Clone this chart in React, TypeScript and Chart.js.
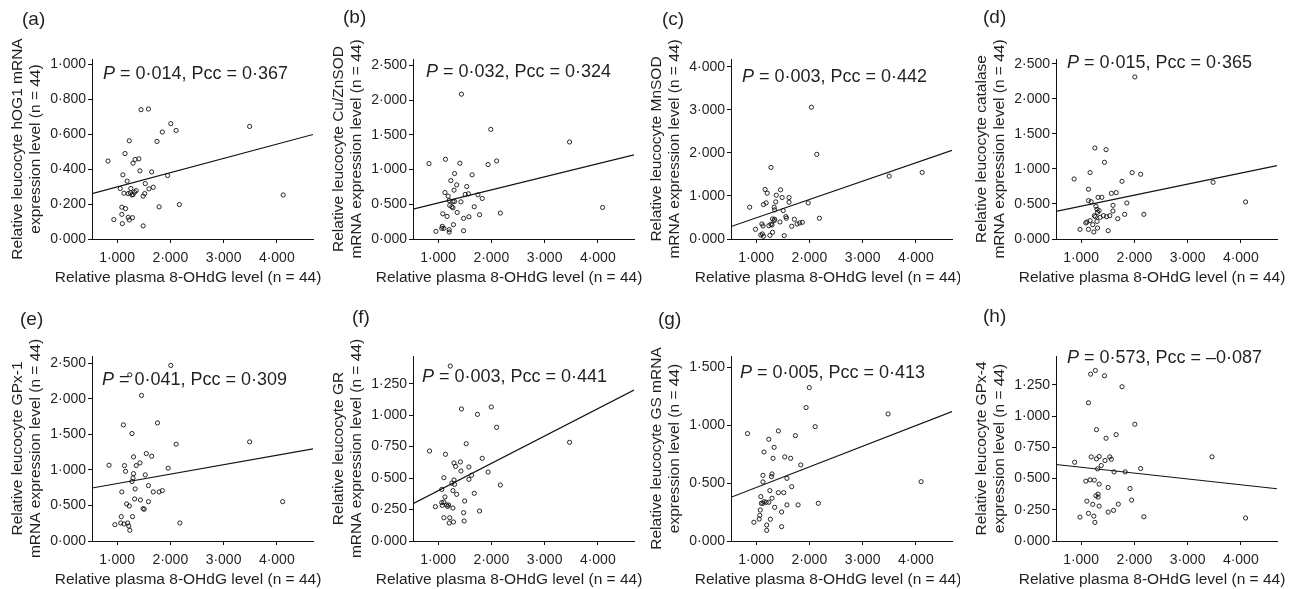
import React, { useEffect, useRef } from 'react';
import { Chart, registerables } from 'chart.js';

Chart.register(...registerables);

// ---------- data ----------
const X_MIN = 0.53;
const X_MAX = 4.68;
const xTicks = [1, 2, 3, 4];
const xTitle = 'Relative plasma 8-OHdG level (n = 44)';

const panelLetters = ['(a)', '(b)', '(c)', '(d)', '(e)', '(f)', '(g)', '(h)'];
const pValues = ['0·014', '0·032', '0·003', '0·015', '0·041', '0·003', '0·005', '0·573'];
const pccValues = ['0·367', '0·324', '0·442', '0·365', '0·309', '0·441', '0·413', '–0·087'];

const yTitles = [
  ['Relative leucocyte hOG1 mRNA', 'expression level (n = 44)'],
  ['Relative leucocyte Cu/ZnSOD', 'mRNA expression level (n = 44)'],
  ['Relative leucocyte MnSOD', 'mRNA expression level (n = 44)'],
  ['Relative leucocyte catalase', 'mRNA expression level (n = 44)'],
  ['Relative leucocyte GPx-1', 'mRNA expression level (n = 44)'],
  ['Relative leucocyte GR', 'mRNA expression level (n = 44)'],
  ['Relative leucocyte GS mRNA', 'expression level (n = 44)'],
  ['Relative leucocyte GPx-4', 'expression level (n = 44)'],
];

const yTicksA = [0, 0.2, 0.4, 0.6, 0.8, 1.0];
const yTicksB = [0, 0.5, 1, 1.5, 2, 2.5];
const yTicksC = [0, 1, 2, 3, 4];
const yTicksD = [0, 0.5, 1, 1.5, 2, 2.5];
const yTicksE = [0, 0.5, 1, 1.5, 2, 2.5];
const yTicksF = [0, 0.25, 0.5, 0.75, 1, 1.25];
const yTicksG = [0, 0.5, 1, 1.5];
const yTicksH = [0, 0.25, 0.5, 0.75, 1, 1.25];
const yMaxes = [1.03, 2.59, 4.18, 2.57, 2.6, 1.47, 1.6, 1.48];

const xA = [1.45,1.59,2.01,2.11,1.85,3.49,1.75,1.23,1.15,1.41,1.34,1.30,0.83,1.43,1.65,1.11,1.95,1.19,1.53,1.06,1.26,1.60,1.68,1.36,1.33,1.13,1.21,1.28,1.52,1.49,1.30,1.25,4.12,1.09,1.16,1.79,2.17,1.09,1.21,1.29,1.23,0.94,1.10,1.49];
const yA = [0.740,0.744,0.660,0.621,0.612,0.644,0.558,0.562,0.489,0.459,0.455,0.434,0.446,0.390,0.384,0.367,0.363,0.331,0.317,0.289,0.289,0.287,0.296,0.277,0.268,0.262,0.260,0.252,0.260,0.245,0.254,0.264,0.252,0.182,0.174,0.184,0.197,0.141,0.124,0.122,0.109,0.111,0.088,0.075];

const xB = [1.44,1.99,3.47,0.83,1.14,1.41,1.94,2.10,1.31,1.64,1.24,1.35,1.54,1.13,1.30,1.51,1.57,1.75,1.83,1.19,1.21,1.28,1.31,1.43,1.22,1.26,1.28,1.68,1.09,1.17,1.36,1.58,1.48,1.78,2.17,4.09,1.29,1.08,1.07,1.11,1.21,1.21,0.96,1.48];
const yB = [2.084,1.577,1.396,1.085,1.147,1.090,1.071,1.123,0.942,0.923,0.841,0.779,0.755,0.669,0.703,0.641,0.650,0.636,0.583,0.617,0.554,0.540,0.540,0.535,0.483,0.464,0.449,0.464,0.363,0.325,0.382,0.320,0.296,0.349,0.373,0.454,0.206,0.182,0.153,0.153,0.134,0.100,0.110,0.119];

const xC = [2.04,2.14,1.28,3.50,4.12,1.17,1.21,1.46,1.38,1.49,1.62,1.62,1.98,1.14,1.19,1.37,0.88,1.34,1.35,1.51,1.56,1.57,1.72,2.19,1.31,1.35,1.34,1.45,1.77,1.82,1.87,1.67,1.28,1.24,1.30,1.11,1.13,0.99,1.31,1.12,1.09,1.14,1.26,1.53];
const yC = [3.06,1.965,1.662,1.46,1.546,1.15,1.064,1.142,1.017,0.963,0.963,0.854,0.839,0.80,0.839,0.862,0.738,0.738,0.676,0.660,0.520,0.482,0.458,0.482,0.466,0.458,0.427,0.396,0.35,0.373,0.388,0.295,0.342,0.31,0.326,0.35,0.303,0.225,0.155,0.117,0.093,0.062,0.085,0.078];

const xD = [2.01,1.26,1.47,1.44,1.17,1.96,2.12,0.87,1.77,3.48,1.14,1.57,1.66,1.14,1.19,1.32,1.39,4.09,1.86,1.60,1.28,1.30,1.34,1.60,1.31,1.82,2.18,1.25,1.27,1.36,1.42,1.48,1.54,1.69,1.17,1.09,1.11,1.30,1.22,0.98,1.14,1.31,1.24,1.51];
const yD = [2.314,1.30,1.276,1.095,0.948,0.948,0.924,0.857,0.824,0.81,0.71,0.652,0.662,0.548,0.533,0.595,0.595,0.529,0.514,0.481,0.467,0.424,0.405,0.40,0.381,0.352,0.352,0.333,0.319,0.31,0.333,0.319,0.333,0.29,0.262,0.229,0.243,0.252,0.205,0.138,0.138,0.157,0.10,0.119];

const xE = [2.01,1.24,1.46,1.12,1.76,1.28,2.11,3.49,1.55,1.31,1.65,0.85,1.14,1.36,1.43,1.96,1.16,1.53,1.31,1.30,1.28,1.34,1.59,1.68,1.79,1.85,1.09,1.33,1.44,1.59,4.11,1.18,1.23,1.49,1.51,1.08,1.29,1.07,1.13,1.20,0.96,2.18,1.22,1.24];
const yE = [2.467,2.336,2.045,1.632,1.66,1.51,1.36,1.393,1.229,1.182,1.191,1.065,1.06,1.06,1.098,1.023,0.98,0.929,0.947,0.886,0.835,0.732,0.779,0.69,0.69,0.708,0.69,0.591,0.577,0.553,0.553,0.521,0.492,0.455,0.446,0.342,0.342,0.253,0.239,0.253,0.23,0.253,0.211,0.15];

const xF = [1.23,1.44,2.00,1.74,2.10,1.53,3.47,0.84,1.14,1.83,1.30,1.42,1.33,1.58,1.43,1.94,1.63,1.58,1.11,1.30,1.31,2.17,1.68,1.28,1.07,1.35,1.13,1.50,1.07,1.11,1.16,1.18,1.20,1.28,0.95,1.78,1.48,1.11,1.22,1.49,1.29,1.21,1.08,1.26];
const yF = [1.39,1.049,1.065,1.006,0.903,0.773,0.784,0.715,0.689,0.657,0.62,0.628,0.593,0.588,0.556,0.548,0.522,0.49,0.503,0.485,0.45,0.445,0.379,0.40,0.41,0.371,0.35,0.318,0.305,0.31,0.286,0.275,0.286,0.262,0.273,0.238,0.225,0.185,0.185,0.159,0.151,0.143,0.283,0.46];

const xG = [2.00,1.94,3.48,2.11,0.84,1.42,1.74,1.24,1.15,1.34,1.32,1.54,1.65,1.84,1.30,1.29,1.13,1.58,1.13,1.67,1.26,1.42,1.52,1.09,1.19,1.24,1.15,1.13,1.10,1.30,2.17,1.58,1.79,1.35,1.08,1.07,1.48,1.06,1.27,0.96,1.20,1.48,1.20,4.10];
const yG = [1.327,1.154,1.099,0.989,0.929,0.952,0.911,0.88,0.77,0.81,0.715,0.727,0.715,0.658,0.58,0.557,0.568,0.542,0.511,0.47,0.436,0.418,0.418,0.384,0.335,0.335,0.34,0.326,0.326,0.37,0.326,0.312,0.312,0.291,0.268,0.222,0.251,0.19,0.188,0.162,0.138,0.124,0.092,0.513];

const xH = [1.27,1.18,1.44,1.77,1.14,2.01,1.29,1.66,1.47,3.46,0.88,1.19,1.29,1.34,1.45,1.54,1.57,1.38,1.31,2.12,1.62,1.83,1.09,1.17,1.25,1.34,1.51,1.92,1.32,1.32,1.28,1.11,1.22,1.34,1.70,1.95,0.98,1.14,1.24,1.51,1.61,1.26,2.18,4.09];
const yH = [1.364,1.335,1.322,1.234,1.106,0.934,0.891,0.851,0.822,0.673,0.63,0.673,0.657,0.676,0.644,0.673,0.654,0.604,0.577,0.58,0.553,0.553,0.479,0.489,0.487,0.455,0.428,0.42,0.375,0.351,0.362,0.319,0.293,0.279,0.295,0.327,0.191,0.221,0.199,0.231,0.245,0.149,0.194,0.184];

// regression line values at X_MIN and X_MAX
const fitA = [0.26, 0.598];
const fitB = [0.43, 1.21];
const fitC = [0.29, 2.06];
const fitD = [0.395, 1.048];
const fitE = [0.745, 1.295];
const fitF = [0.297, 1.20];
const fitG = [0.378, 1.119];
const fitH = [0.612, 0.418];

const xs = [xA, xB, xC, xD, xE, xF, xG, xH];
const ys = [yA, yB, yC, yD, yE, yF, yG, yH];
const fits = [fitA, fitB, fitC, fitD, fitE, fitF, fitG, fitH];
const yTickSets = [yTicksA, yTicksB, yTicksC, yTicksD, yTicksE, yTicksF, yTicksG, yTicksH];

// ---------- layout ----------
const FONT = '"Liberation Sans", Arial, Helvetica, sans-serif';
const INK = '#231f20';
const colLefts = [0, 321, 639, 964];
const rowTops = [0, 297];
const CW = 321;
const CH = 292;
const statOffsets = [[11, 15], [13, 13], [11, 18], [11, 4], [10, 24], [9, 21], [9, 17], [11, 2]];
const letterPos = [[22, 20], [22, 18], [23, 20], [19, 18], [20, 23], [31, 21], [19, 23], [19, 20]];
const xTitlePos = [[188, 278], [188, 278], [189, 278], [188, 278], [188, 283], [188, 283], [189, 283], [188, 283]];

const fmt = (v: number) => v.toFixed(3).replace('.', '·');

const textPlugin = {
  id: 'panelText',
  beforeDatasetsDraw(chart: any) {
    const o = chart.options.plugins.panelText;
    const { ctx, chartArea } = chart;
    ctx.save();
    ctx.fillStyle = INK;
    ctx.textBaseline = 'middle';
    ctx.textAlign = 'left';
    const x0 = chartArea.left + o.dx;
    const y0 = chartArea.top + o.dy;
    ctx.font = `italic 18px ${FONT}`;
    ctx.fillText('P', x0, y0);
    const w = ctx.measureText('P').width;
    ctx.font = `18px ${FONT}`;
    ctx.fillText(` = ${o.p}, Pcc = ${o.pcc}`, x0 + w, y0);
    ctx.restore();
  },
  afterDraw(chart: any) {
    const o = chart.options.plugins.panelText;
    const { ctx } = chart;
    ctx.save();
    ctx.fillStyle = INK;
    ctx.textBaseline = 'middle';
    ctx.textAlign = 'left';
    ctx.font = `19px ${FONT}`;
    ctx.fillText(o.letter, o.lx, o.ly);
    ctx.textAlign = 'center';
    ctx.font = `15.5px ${FONT}`;
    ctx.fillText(o.xTitle, o.tx, o.ty);
    ctx.restore();
  },
};

function Panel({ i }: { i: number }) {
  const ref = useRef<HTMLCanvasElement>(null);
  const row = i < 4 ? 0 : 1;
  const col = i % 4;
  useEffect(() => {
    const xv = xs[i];
    const yv = ys[i];
    const fit = fits[i];
    const yTicks = yTickSets[i];
    const chart = new Chart(ref.current as HTMLCanvasElement, {
      type: 'scatter',
      data: {
        datasets: [
          {
            data: xv.map((x, k) => ({ x, y: yv[k] })),
            pointRadius: 2.1,
            pointBorderWidth: 0.9,
            pointBorderColor: '#111',
            pointBackgroundColor: 'rgba(255,255,255,0)',
            showLine: false,
            order: 1,
          },
          {
            type: 'line',
            data: [
              { x: X_MIN, y: fit[0] },
              { x: X_MAX, y: fit[1] },
            ],
            borderColor: '#111',
            borderWidth: 1.2,
            pointRadius: 0,
            fill: false,
            order: 2,
          } as any,
        ],
      },
      options: {
        responsive: false,
        maintainAspectRatio: false,
        animation: false,
        layout: { padding: { left: 2, right: 8, top: 59, bottom: row === 0 ? 5 : 0 } },
        plugins: {
          legend: { display: false },
          tooltip: { enabled: false },
          panelText: {
            dx: statOffsets[i][0],
            dy: statOffsets[i][1],
            p: pValues[i],
            pcc: pccValues[i],
            letter: panelLetters[i],
            lx: letterPos[i][0],
            ly: letterPos[i][1],
            xTitle,
            tx: xTitlePos[i][0],
            ty: xTitlePos[i][1],
          },
        } as any,
        scales: {
          x: {
            type: 'linear',
            min: X_MIN,
            max: X_MAX,
            afterBuildTicks: (ax: any) => {
              ax.ticks = xTicks.map((v) => ({ value: v }));
            },
            afterFit: (ax: any) => {
              ax.height = 48;
            },
            ticks: {
              callback: (v: any) => fmt(Number(v)),
              font: { family: FONT, size: 14 },
              color: INK,
              padding: 7,
              maxRotation: 0,
              autoSkip: false,
            },
            grid: { display: true, drawOnChartArea: false, drawTicks: true, tickLength: 4, color: '#111' },
            border: { display: true, color: '#111', width: 1 },
            title: { display: false },
          },
          y: {
            type: 'linear',
            min: 0,
            max: yMaxes[i],
            afterBuildTicks: (ax: any) => {
              ax.ticks = yTicks.map((v) => ({ value: v }));
            },
            afterFit: (ax: any) => {
              ax.width = 90;
            },
            ticks: {
              callback: (v: any) => fmt(Number(v)),
              font: { family: FONT, size: 14 },
              color: INK,
              padding: 2,
              autoSkip: false,
            },
            grid: { display: true, drawOnChartArea: false, drawTicks: true, tickLength: 4, color: '#111' },
            border: { display: true, color: '#111', width: 1 },
            title: {
              display: true,
              text: yTitles[i],
              font: { family: FONT, size: 15.5 },
              color: INK,
              padding: { top: 6, bottom: 0 },
            },
          },
        },
      },
      plugins: [textPlugin as any],
    });
    return () => chart.destroy();
  }, [i]);
  return (
    <canvas
      ref={ref}
      width={CW}
      height={CH}
      style={{ position: 'absolute', left: colLefts[col], top: rowTops[row], width: CW, height: CH }}
    />
  );
}

export default function App() {
  return (
    <div style={{ position: 'absolute', left: 0, top: 0, width: 1299, height: 589, background: '#fff', overflow: 'hidden' }}>
      {[0, 1, 2, 3, 4, 5, 6, 7].map((i) => (
        <Panel key={i} i={i} />
      ))}
    </div>
  );
}
